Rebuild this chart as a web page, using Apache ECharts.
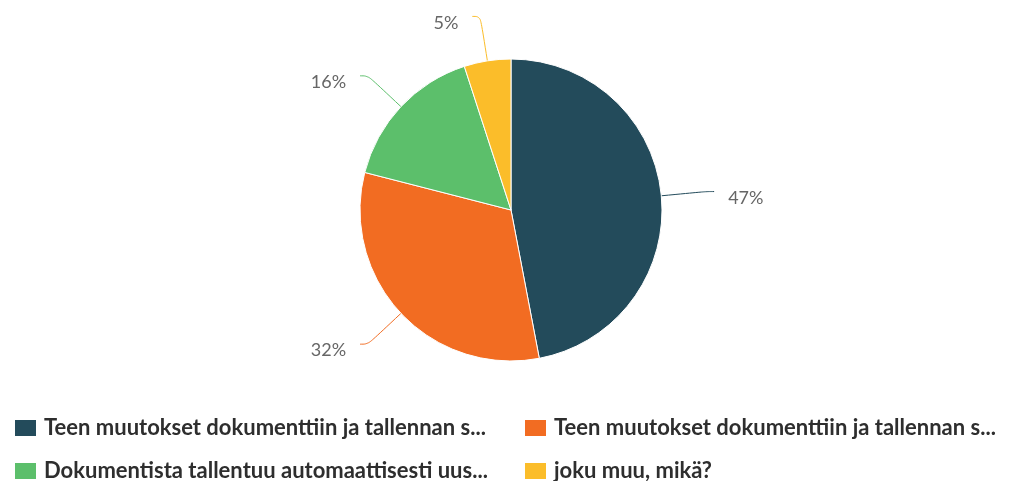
<!DOCTYPE html>
<html>
<head>
<meta charset="utf-8">
<script src="https://cdn.jsdelivr.net/npm/echarts@6/dist/echarts.min.js"></script>
<style>
  html, body { margin: 0; padding: 0; background: #ffffff; }
  #chart { width: 1009px; height: 481px; }
</style>
</head>
<body>
<div id="chart"></div>
<script>
// Answer options (full texts) and their shortened legend captions
const categories = [
  'Teen muutokset dokumenttiin ja tallennan samalla nimellä',
  'Teen muutokset dokumenttiin ja tallennan sen uudella nimellä',
  'Dokumentista tallentuu automaattisesti uusi versio',
  'joku muu, mikä?'
];
const legendLabels = [
  'Teen muutokset dokumenttiin ja tallennan s...',
  'Teen muutokset dokumenttiin ja tallennan s...',
  'Dokumentista tallentuu automaattisesti uus...',
  'joku muu, mikä?'
];
const shares = [47, 32, 16, 5];
const colors = ['#234b5b', '#f26c22', '#5cbf6b', '#fbbd2a'];

const captionOf = name => legendLabels[categories.indexOf(name)];

const legendBase = {
  orient: 'vertical',
  top: 417,
  height: 120,
  padding: 0,
  itemWidth: 23,
  itemHeight: 18,
  itemGap: 21,
  icon: 'rect',
  formatter: captionOf,
  textStyle: {
    fontFamily: 'Lato',
    fontSize: 22,
    fontWeight: 'bold',
    color: '#2e2e2e',
    padding: [0, 0, 0, 2]
  }
};

const chart = echarts.init(document.getElementById('chart'), null, { renderer: 'canvas' });
chart.setOption({
  backgroundColor: '#ffffff',
  color: colors,
  animation: false,
  legend: [
    Object.assign({}, legendBase, { left: 13, data: [categories[0], categories[2]] }),
    Object.assign({}, legendBase, { left: 523, data: [categories[1], categories[3]] })
  ],
  series: [{
    type: 'pie',
    center: [511, 210],
    radius: [0, 151],
    startAngle: 90,
    clockwise: true,
    avoidLabelOverlap: false,
    itemStyle: { borderColor: '#ffffff', borderWidth: 1 },
    label: {
      show: true,
      formatter: p => '{v|' + p.value + '%}',
      distanceToLabelLine: 14,
      rich: {
        v: {
          fontFamily: 'Lato',
          fontSize: 18,
          color: '#666666',
          padding: [13, 0, 0, 0]
        }
      }
    },
    labelLine: {
      show: true,
      length: 45,
      length2: 8,
      smooth: 0.4,
      lineStyle: { width: 1 }
    },
    data: categories.map((name, i) => ({ name, value: shares[i] }))
  }]
});
</script>
</body>
</html>
